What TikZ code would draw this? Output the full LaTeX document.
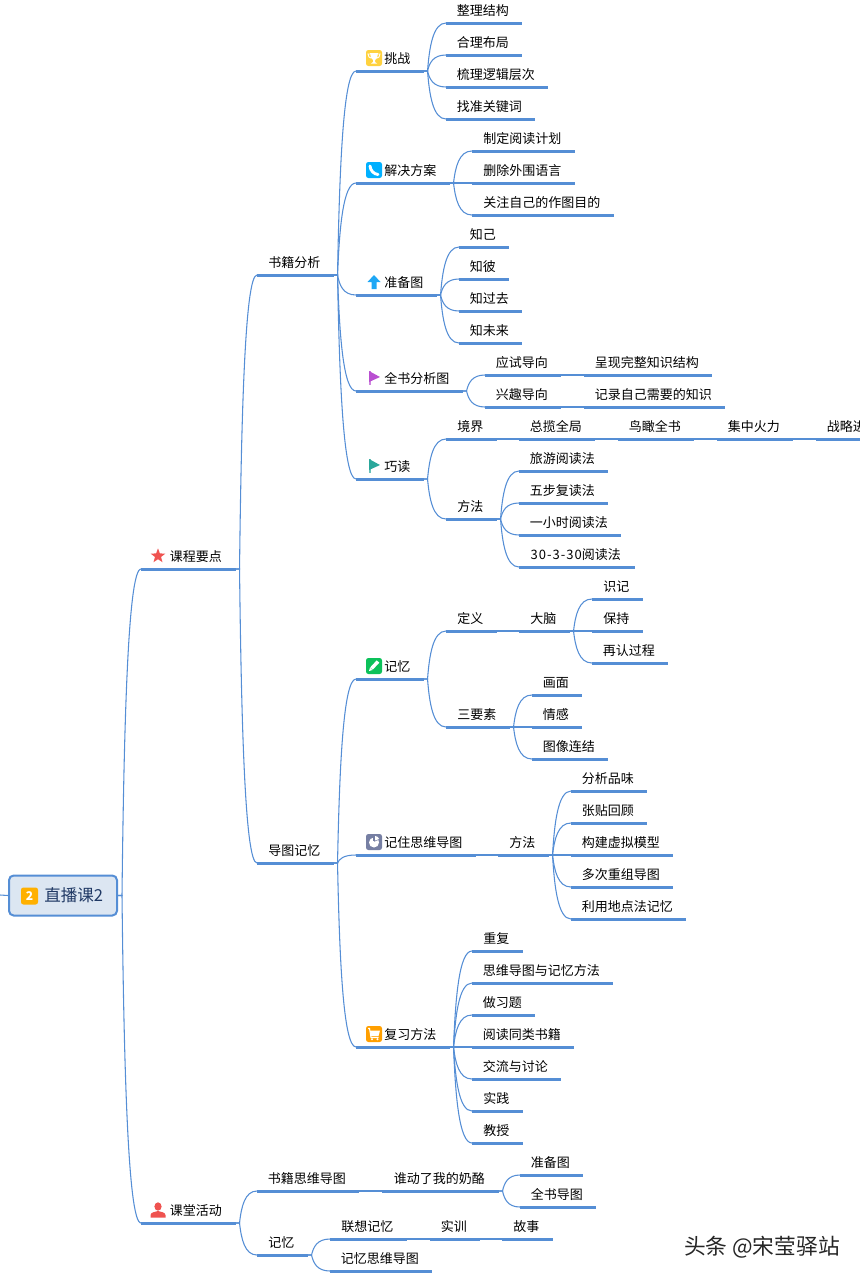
\documentclass[tikz,border=0pt]{standalone}
\usepackage{fontspec}
\setmainfont{Noto Sans CJK SC}
\usetikzlibrary{calc,shapes.geometric}

\definecolor{linecol}{HTML}{558ED5}
\definecolor{rootfill}{HTML}{DCE6F2}
\definecolor{rootink}{HTML}{1F3864}
\definecolor{icyellow}{HTML}{FFD23F}
\definecolor{icblue}{HTML}{00B0FF}
\definecolor{icarrow}{HTML}{1EA7F5}
\definecolor{icpurple}{HTML}{B94FD1}
\definecolor{icteal}{HTML}{2AA79B}
\definecolor{icgreen}{HTML}{0CC15A}
\definecolor{icslate}{HTML}{767FA3}
\definecolor{iccart}{HTML}{FF9F00}
\definecolor{icred}{HTML}{EF5350}
\definecolor{icroot}{HTML}{FFB000}

\newcommand{\ico}{\hspace*{12.75pt}}

\tikzset{
  topic/.style={anchor=south west, inner sep=0pt, minimum height=19.5pt,
    text height=9.2pt, text depth=0.5pt, font=\fontsize{9.75}{12}\selectfont},
  branch/.style={draw=linecol, line width=0.8pt, to path={
    let \p1=(\tikztostart), \p2=(\tikztotarget), \n1={\x1+3pt} in
    -- (\n1,\y1) .. controls ({\n1+0.1*(\x2-\n1)},{\y1+0.5*(\y2-\y1)})
    and ({\n1+0.3*(\x2-\n1)},\y2) .. (\tikztotarget)}},
  badge/.pic={\fill[#1, rounded corners=1.8pt] (-8,-8) rectangle (8,8);},
  trophyicon/.pic={
    \pic {badge=icyellow};
    \fill[white] (-4,-5) -- (4,-5) -- (3,0) -- (1,2) -- (1,4) -- (3,5.5) -- (-3,5.5) -- (-1,4) -- (-1,2) -- (-3,0) -- cycle;
    \draw[white, line width=0.7pt] (-4,-4) -- (-6,-4) -- (-5,-1) -- (-3,0) (4,-4) -- (6,-4) -- (5,-1) -- (3,0);},
  phoneicon/.pic={
    \pic {badge=icblue};
    \draw[white, line width=2.2pt, line cap=round] (-4,-4) .. controls (-3.5,1) and (0,4) .. (4,4.5);},
  pencilicon/.pic={
    \pic {badge=icgreen};
    \draw[white, line width=2.6pt] (4,-4.5) -- (-2.5,2.5);
    \fill[white] (-5,5) -- (-4,1.5) -- (-1.5,4) -- cycle;},
  pieicon/.pic={
    \pic {badge=icslate};
    \fill[white] (0,-4.5) arc[start angle=-90, delta angle=-300, radius=5] -- (0,0) -- cycle;
    \fill[icslate] (-1,-1) -- (-1,-5) -- (1,-5) -- (1,-1) -- cycle;
    \fill[white] (1,-1.5) -- (1,-6) arc[start angle=-90, delta angle=70, radius=4.5] -- cycle;},
  carticon/.pic={
    \pic {badge=iccart};
    \fill[white] (-4,-3.5) -- (6,-3.5) -- (4.5,2) -- (-3,2) -- cycle;
    \draw[white, line width=0.8pt] (-6,-5.5) -- (-4.5,-5.5) -- (-3,3.5) -- (4.5,3.5);
    \fill[white] (-2,5.2) circle (1.2) (3.5,5.2) circle (1.2);},
  flagicon/.pic={
    \fill[#1!70!white] (-5,-7) rectangle (-3.5,7);
    \fill[#1] (-5,-7) -- (6,-1) -- (-5,4) -- cycle;},
  upicon/.pic={\fill[icarrow] (0,-7) -- (6.5,0) -- (2.5,0) -- (2.5,7) -- (-2.5,7) -- (-2.5,0) -- (-6.5,0) -- cycle;},
  personicon/.pic={
    \fill[icred] (0,-3.5) ellipse (3.6 and 4.2);
    \fill[icred] (-7.5,7.5) -- (-7.5,5) .. controls (-7,2) and (-3,2) .. (0,1) .. controls (3,2) and (7,2) .. (7.5,5) -- (7.5,7.5) -- cycle;},
}

\begin{document}
\begin{tikzpicture}[x=0.75pt, y=-0.75pt]
  \useasboundingbox (0,0) rectangle (860,1278);
  \clip (0,0) rectangle (860,1278);

  % Root
  \coordinate (rootin) at (0,895);
  \node[draw=linecol, fill=rootfill, line width=1.5pt, rounded corners=3.5pt, minimum width=81pt, minimum height=30pt,
    inner sep=0pt, text=rootink, font=\fontsize{12.4}{14}\selectfont] (root) at (63,895.5) {\hspace*{16pt}直播课2};
  \node[fill=icroot, rounded corners=1.8pt, minimum size=12.75pt, inner sep=0pt, text=white,
    font=\fontsize{9}{10}\selectfont\bfseries] (rootbadge) at (29.5,896) {2};
  \draw[branch] (rootin) -- (root.west);

  % Topics
  \foreach \nm/\xa/\xb/\yy/\txt in {
    points/141/235/569/\ico 课程要点, activity/141/235/1223/\ico 课堂活动,
    analysis/257/333/275/书籍分析, mapmem/257/333/863/导图记忆,
    bookmap/257/358/1191/书籍思维导图, actmem/257/307/1255/记忆,
    challenge/356/423/71/\ico 挑战, solution/356/449/183/\ico 解决方案,
    prepare/356/436/295/\ico 准备图, whole/356/462/391/\ico 全书分析图,
    smart/356/423/479/\ico 巧读, memory/356/423/679/\ico 记忆,
    remember/356/475/855/\ico 记住思维导图, review/356/449/1047/\ico 复习方法,
    chA/446/521/23/整理结构, chB/446/521/55/合理布局, chC/446/547/87/梳理逻辑层次, chD/446/534/119/找准关键词,
    soA/472/574/151/制定阅读计划, soB/472/574/183/删除外围语言, soC/472/613/215/关注自己的作图目的,
    prA/459/508/247/知己, prB/459/508/279/知彼, prC/459/521/311/知过去, prD/459/521/343/知未来,
    whA/485/560/375/应试导向, whB/485/560/407/兴趣导向,
    whC/584/711/375/呈现完整知识结构, whD/584/724/407/记录自己需要的知识,
    level/446/496/439/境界, lvA/519/594/439/总揽全局, lvB/618/693/439/鸟瞰全书,
    lvC/717/792/439/集中火力, lvD/816/878/439/战略进,
    method/446/496/519/方法, meA/519/607/471/旅游阅读法, meB/519/607/503/五步复读法,
    meC/519/620/535/一小时阅读法, meD/519/634/567/{\addfontfeature{LetterSpace=8}30-3-30}阅读法,
    define/446/496/631/定义, brain/519/569/631/大脑,
    brA/592/642/599/识记, brB/592/642/631/保持, brC/592/667/663/再认过程,
    three/446/509/727/三要素, thA/532/581/695/画面, thB/532/581/727/情感, thC/532/607/759/图像连结,
    remway/498/548/855/方法, rmA/571/646/791/分析品味, rmB/571/646/823/张贴回顾,
    rmC/571/672/855/构建虚拟模型, rmD/571/672/887/多次重组导图, rmE/571/685/919/利用地点法记忆,
    rvA/472/522/951/重复, rvB/472/612/983/思维导图与记忆方法, rvC/472/534/1015/做习题,
    rvD/472/573/1047/阅读同类书籍, rvE/472/560/1079/交流与讨论, rvF/472/522/1111/实践, rvG/472/522/1143/教授,
    cheese/382/498/1191/谁动了我的奶酪, chzA/520/582/1175/准备图, chzB/520/595/1207/全书导图,
    assoc/330/406/1239/联想记忆, train/430/479/1239/实训, story/502/552/1239/故事, memmap/330/431/1271/记忆思维导图%
  }{
    \node[topic, minimum width={(\xb-\xa)*0.75pt}] (\nm) at (\xa,\yy) {\hspace*{-1.5pt}\txt};
    \fill[linecol] ($(\nm.south west)+(0,-1.5)$) rectangle ($(\nm.south east)+(0,1.5)$);
  }

  % Branches
  \foreach \pa/\ch in {
    root.east/points, root.east/activity,
    points.south east/analysis, points.south east/mapmem,
    activity.south east/bookmap, activity.south east/actmem,
    analysis.south east/challenge, analysis.south east/solution, analysis.south east/prepare,
    analysis.south east/whole, analysis.south east/smart,
    mapmem.south east/memory, mapmem.south east/remember, mapmem.south east/review,
    challenge.south east/chA, challenge.south east/chB, challenge.south east/chC, challenge.south east/chD,
    solution.south east/soA, solution.south east/soB, solution.south east/soC,
    prepare.south east/prA, prepare.south east/prB, prepare.south east/prC, prepare.south east/prD,
    whole.south east/whA, whole.south east/whB, whA.south east/whC, whB.south east/whD,
    smart.south east/level, smart.south east/method,
    level.south east/lvA, lvA.south east/lvB, lvB.south east/lvC, lvC.south east/lvD,
    method.south east/meA, method.south east/meB, method.south east/meC, method.south east/meD,
    memory.south east/define, memory.south east/three, define.south east/brain,
    brain.south east/brA, brain.south east/brB, brain.south east/brC,
    three.south east/thA, three.south east/thB, three.south east/thC,
    remember.south east/remway, remway.south east/rmA, remway.south east/rmB,
    remway.south east/rmC, remway.south east/rmD, remway.south east/rmE,
    review.south east/rvA, review.south east/rvB, review.south east/rvC, review.south east/rvD,
    review.south east/rvE, review.south east/rvF, review.south east/rvG,
    bookmap.south east/cheese, cheese.south east/chzA, cheese.south east/chzB,
    actmem.south east/assoc, actmem.south east/memmap,
    assoc.south east/train, train.south east/story%
  }{
    \draw[branch] (\pa) to (\ch.south west);
  }

  % Icons
  \node[star, star points=5, star point ratio=2.4, fill=icred, minimum size=11.5pt, inner sep=0pt] (staricon) at (158,556) {};
  \pic at (158,1210) {personicon};
  \pic at (374,58) {trophyicon};
  \pic at (374,170) {phoneicon};
  \pic at (374,282) {upicon};
  \pic at (374,378) {flagicon={icpurple}};
  \pic at (374,466) {flagicon={icteal}};
  \pic at (374,666) {pencilicon};
  \pic at (374,842) {pieicon};
  \pic at (374,1034) {carticon};

  % Mark
  \node[inner sep=0pt, text=black!85, font=\fontsize{16.3}{18}\selectfont] (wmark) at (762,1247) {头条 @宋莹驿站};
\end{tikzpicture}
\end{document}
